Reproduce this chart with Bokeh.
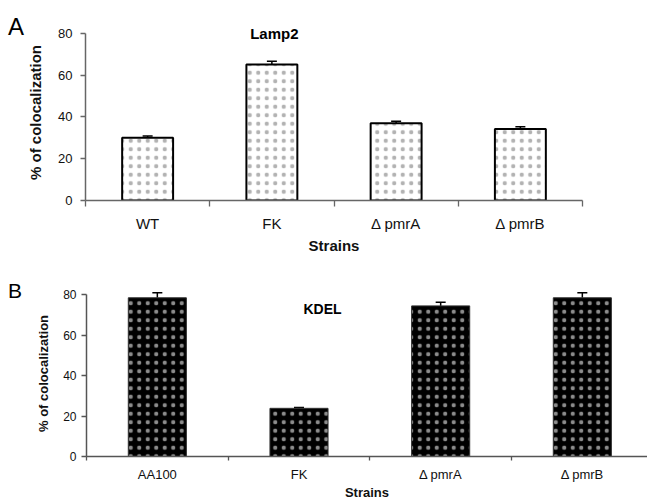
from bokeh.plotting import figure
from bokeh.models import Range1d, FixedTicker, Label, Whisker, ColumnDataSource, TeeHead, Div
from bokeh.layouts import column, row
from bokeh.embed import file_html
from bokeh.resources import INLINE

# ---- data ----
a_strains = ["WT", "FK", "Δ pmrA", "Δ pmrB"]
a_values = [30.0, 65.1, 37.0, 34.3]
a_errors = [0.9, 1.6, 1.0, 1.0]

b_strains = ["AA100", "FK", "Δ pmrA", "Δ pmrB"]
b_values = [78.4, 23.8, 74.4, 78.4]
b_errors = [2.5, 0.4, 1.8, 2.5]

y_ticks = [0, 20, 40, 60, 80]

FONT = "Liberation Sans"


def make_panel(strains, values, errors, *, x_end, y_end, frame_w, frame_h,
               left, right, top, bottom, fill, hatch, hatch_alpha, outline,
               outline_w, both_err, ytick_size, xtick_size, title_size,
               ytick_standoff, ylab_standoff, xtick_standoff, xlab_standoff,
               axis_color, tick_out):
    n = len(strains)
    xs = [i + 0.5 for i in range(n)]
    p = figure(frame_width=frame_w, frame_height=frame_h,
               x_range=Range1d(0, x_end), y_range=Range1d(0, y_end),
               output_backend="svg", toolbar_location=None,
               min_border_left=left, min_border_right=right,
               min_border_top=top, min_border_bottom=bottom,
               background_fill_color="white", border_fill_color="white")
    p.outline_line_color = None
    p.xgrid.visible = False
    p.ygrid.visible = False

    src = ColumnDataSource(dict(
        x=xs, top=values,
        upper=[v + e for v, e in zip(values, errors)],
        lower=[v - e for v, e in zip(values, errors)] if both_err else list(values),
    ))
    p.vbar(x="x", top="top", bottom=0, width=0.41, source=src,
           fill_color=fill, line_color=outline, line_width=outline_w,
           hatch_pattern="dot", hatch_color=hatch, hatch_alpha=hatch_alpha,
           hatch_scale=8.5, hatch_weight=0.5)

    w = Whisker(source=src, base="x", upper="upper", lower="lower",
                line_color="black", line_width=1.5,
                upper_head=TeeHead(size=10, line_width=1.5, line_color="black"),
                lower_head=(TeeHead(size=10, line_width=1.5, line_color="black")
                            if both_err else None))
    p.add_layout(w)

    # x axis: labels at category centres, tick marks at category boundaries
    xa = p.xaxis[0]
    xa.ticker = FixedTicker(ticks=xs, minor_ticks=list(range(n + 1)))
    xa.major_label_overrides = {x: s for x, s in zip(xs, strains)}
    xa.major_tick_in = 0
    xa.major_tick_out = 0
    xa.minor_tick_in = 0
    xa.minor_tick_out = tick_out
    xa.minor_tick_line_color = axis_color
    xa.minor_tick_line_width = 1.3
    xa.axis_line_color = axis_color
    xa.axis_line_width = 1.5
    xa.major_label_text_font = FONT
    xa.major_label_text_font_size = f"{xtick_size}px"
    xa.major_label_text_color = "#111111"
    xa.major_label_standoff = xtick_standoff
    xa.axis_label = "Strains"
    xa.axis_label_text_font = FONT
    xa.axis_label_text_font_style = "bold"
    xa.axis_label_text_font_size = f"{title_size}px"
    xa.axis_label_text_color = "#111111"
    xa.axis_label_standoff = xlab_standoff

    ya = p.yaxis[0]
    ya.ticker = FixedTicker(ticks=y_ticks, minor_ticks=[])
    ya.bounds = (0, 80)
    ya.major_tick_in = 0
    ya.major_tick_out = 5
    ya.major_tick_line_color = axis_color
    ya.major_tick_line_width = 1.3
    ya.axis_line_color = axis_color
    ya.axis_line_width = 1.5
    ya.major_label_text_font = FONT
    ya.major_label_text_font_size = f"{ytick_size}px"
    ya.major_label_text_color = "#111111"
    ya.major_label_standoff = ytick_standoff
    ya.axis_label = "% of colocalization"
    ya.axis_label_text_font = FONT
    ya.axis_label_text_font_style = "bold"
    ya.axis_label_text_font_size = f"{title_size}px"
    ya.axis_label_text_color = "#111111"
    ya.axis_label_standoff = ylab_standoff
    return p


pa = make_panel(a_strains, a_values, a_errors, x_end=4, y_end=84.31,
                frame_w=497, frame_h=176, left=59, right=67, top=24, bottom=55,
                fill="white", hatch="black", hatch_alpha=0.3, outline="black",
                outline_w=2, both_err=True, ytick_size=13, xtick_size=15,
                title_size=15, ytick_standoff=8, ylab_standoff=11,
                xtick_standoff=8, xlab_standoff=2, axis_color="#666666",
                tick_out=6)
pa.add_layout(Label(x=1.52, y=80, text="Lamp2", text_font=FONT,
                    text_font_style="bold", text_font_size="15px",
                    text_color="black", text_baseline="middle",
                    text_align="center"))

pb = make_panel(b_strains, b_values, b_errors, x_end=3.96, y_end=82,
                frame_w=561, frame_h=166, left=62, right=0, top=34, bottom=46,
                fill="black", hatch="white", hatch_alpha=0.55, outline="#333333",
                outline_w=1, both_err=False, ytick_size=12, xtick_size=13,
                title_size=13, ytick_standoff=5, ylab_standoff=9,
                xtick_standoff=6, xlab_standoff=0, axis_color="#555555",
                tick_out=4)
pb.add_layout(Label(x=1.666, y=72.8, text="KDEL", text_font=FONT,
                    text_font_style="bold", text_font_size="14px",
                    text_color="black", text_baseline="middle",
                    text_align="center"))

div_a = Div(text=('<div style="position:relative;left:8px;top:15px;'
                  'font-family:\'Liberation Sans\';font-size:24px;'
                  'line-height:24px;color:black;">A</div>'),
            width=24, height=50, margin=0)
div_b = Div(text=('<div style="position:relative;left:8px;top:24px;'
                  'font-family:\'Liberation Sans\';font-size:21px;'
                  'line-height:21px;color:black;">B</div>'),
            width=24, height=50, margin=0)

layout = column(row(div_a, pa, spacing=0), row(div_b, pb, spacing=0), spacing=0)
open("out.html", "w").write(file_html(layout, INLINE))
